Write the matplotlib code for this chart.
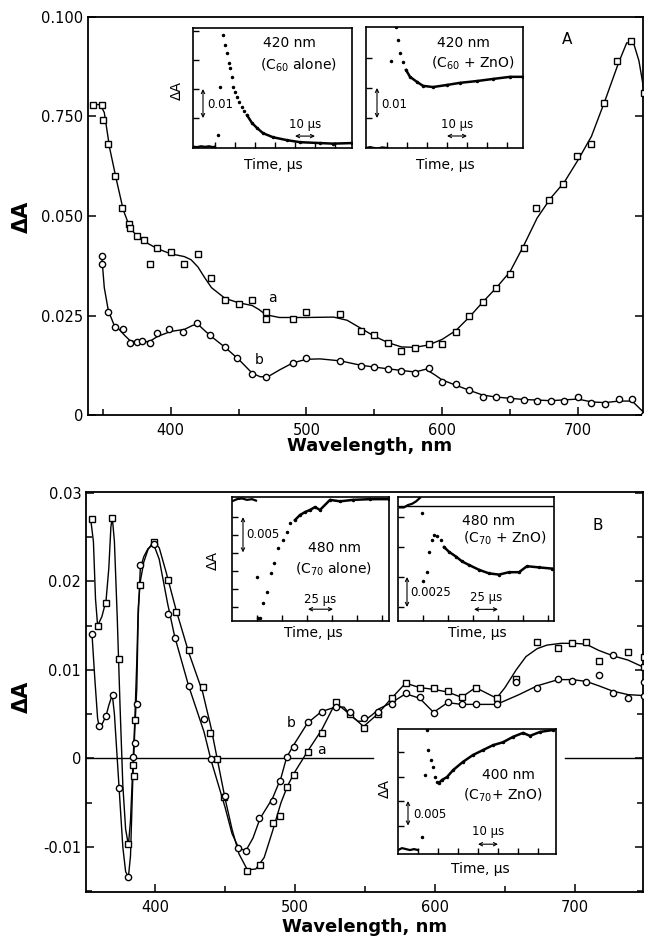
import matplotlib
matplotlib.use("Agg")
import matplotlib.pyplot as plt
from matplotlib.ticker import MultipleLocator

W, H = 646, 936

# ---------------- panel A : C60 (a = squares, b = circles) ----------------
a_wl = [343, 349, 350, 354, 359, 364, 369, 370, 375, 380, 385, 390, 400, 410, 420,
        430, 440, 450, 460, 470, 470, 490, 500, 525, 540, 550, 560, 570, 580, 590,
        600, 610, 620, 630, 640, 650, 660, 669, 679, 689, 699, 710, 719, 729, 739, 749]
a_val = [0.078, 0.078, 0.074, 0.068, 0.060, 0.052, 0.048, 0.047, 0.045, 0.044, 0.038,
         0.042, 0.041, 0.038, 0.0405, 0.0345, 0.029, 0.028, 0.029, 0.026, 0.024, 0.024,
         0.026, 0.0253, 0.021, 0.020, 0.018, 0.016, 0.0168, 0.0178, 0.0178, 0.0208,
         0.0248, 0.0285, 0.032, 0.0355, 0.042, 0.052, 0.054, 0.058, 0.065, 0.068,
         0.0785, 0.089, 0.094, 0.081]
a_curve_wl = [341, 348, 351, 355, 360, 365, 370, 375, 380, 390, 400, 410, 415, 420, 425,
              430, 440, 450, 460, 465, 470, 480, 500, 520, 530, 540, 550, 560, 570, 580,
              590, 600, 610, 620, 630, 640, 650, 660, 670, 680, 690, 700, 710, 720, 730,
              736, 741, 745, 749]
a_curve_val = [0.078, 0.078, 0.076, 0.067, 0.059, 0.0515, 0.047, 0.045, 0.0437, 0.0418,
               0.0405, 0.0398, 0.039, 0.0372, 0.0345, 0.032, 0.0293, 0.0282, 0.0275,
               0.0265, 0.0252, 0.0245, 0.0245, 0.0246, 0.0238, 0.0218, 0.0198, 0.0182,
               0.0171, 0.017, 0.0176, 0.019, 0.0212, 0.0246, 0.0284, 0.032, 0.036,
               0.0425, 0.0495, 0.0545, 0.0585, 0.064, 0.07, 0.079, 0.0885, 0.0935,
               0.0935, 0.089, 0.081]

b_wl = [349, 349, 354, 359, 365, 370, 375, 379, 385, 390, 399, 409, 419, 429, 440, 449,
        460, 470, 490, 500, 525, 540, 550, 560, 570, 580, 590, 600, 610, 620, 630, 640,
        650, 660, 670, 680, 690, 700, 710, 720, 730, 740, 749]
b_val = [0.040, 0.038, 0.026, 0.022, 0.0217, 0.018, 0.0183, 0.0185, 0.018, 0.0205,
         0.0215, 0.0208, 0.023, 0.020, 0.017, 0.0143, 0.0103, 0.0095, 0.013, 0.0143,
         0.0135, 0.0123, 0.012, 0.0115, 0.011, 0.0105, 0.0118, 0.0083, 0.0078, 0.0063,
         0.0045, 0.0045, 0.004, 0.0038, 0.0035, 0.0035, 0.0035, 0.0045, 0.003, 0.0028,
         0.004, 0.004, 0.0]
b_curve_wl = [349, 351, 354, 358, 362, 366, 370, 375, 380, 385, 390, 400, 410, 416, 420,
              425, 430, 440, 450, 460, 466, 472, 480, 490, 500, 510, 525, 540, 560, 580,
              588, 595, 600, 610, 620, 630, 640, 660, 680, 700, 710, 720, 730, 740, 749]
b_curve_val = [0.0405, 0.032, 0.0262, 0.0228, 0.0215, 0.02, 0.0187, 0.0183, 0.0183,
               0.0186, 0.0197, 0.021, 0.0215, 0.0225, 0.0228, 0.0212, 0.0197, 0.017,
               0.014, 0.0105, 0.0096, 0.0097, 0.0113, 0.0131, 0.014, 0.0141, 0.0136,
               0.0125, 0.0116, 0.0108, 0.0115, 0.01, 0.0088, 0.0075, 0.0062, 0.005,
               0.0045, 0.0039, 0.0036, 0.004, 0.0033, 0.0031, 0.0035, 0.0035, 0.0005]

# ---------------- panel B : C70 ----------------
Ba_wl = [355, 359, 365, 369, 374, 381, 384, 385, 386, 389, 399, 409, 415, 424, 434, 439,
         444, 449, 466, 475, 484, 489, 494, 499, 509, 519, 529, 539, 549, 559, 569, 579,
         589, 599, 609, 619, 629, 644, 658, 673, 688, 698, 708, 717, 738, 749, 749]
Ba_val = [0.0271, 0.015, 0.0176, 0.0272, 0.0112, -0.0097, -0.0008, -0.002, 0.0043,
          0.0196, 0.0245, 0.0202, 0.0165, 0.0122, 0.0081, 0.0029, -0.0001, -0.0044,
          -0.0127, -0.0121, -0.0073, -0.0065, -0.0032, -0.0019, 0.0007, 0.0029, 0.0064,
          0.005, 0.0034, 0.005, 0.0068, 0.0085, 0.008, 0.0079, 0.0076, 0.0069, 0.008,
          0.0068, 0.009, 0.0131, 0.0125, 0.013, 0.0131, 0.011, 0.012, 0.0115, 0.0103]
Ba_curve_wl = [354, 356, 357.5, 359, 362, 365, 367, 368.5, 369.5, 371, 373, 375, 377, 379,
               381, 382.5, 384, 385.5, 387, 388, 389.5, 392, 395, 399, 403, 408, 415, 424,
               434, 440, 445, 450, 455, 460, 466, 472, 478, 484, 490, 495, 500, 509, 519,
               529, 539, 549, 559, 569, 579, 589, 599, 609, 619, 629, 644, 650, 658, 665,
               673, 680, 690, 700, 708, 717, 727, 738, 749]
Ba_curve_val = [0.0271, 0.0245, 0.018, 0.015, 0.016, 0.0178, 0.0215, 0.0262, 0.0272,
                0.0245, 0.016, 0.006, -0.003, -0.008, -0.0098, -0.007, -0.0015, 0.004,
                0.011, 0.017, 0.02, 0.0222, 0.0236, 0.0245, 0.0238, 0.021, 0.0168, 0.012,
                0.0075, 0.0035, -0.0005, -0.0045, -0.008, -0.0108, -0.0126, -0.0125,
                -0.0112, -0.0082, -0.005, -0.003, -0.0015, 0.0008, 0.0032, 0.0063, 0.005,
                0.0036, 0.005, 0.0068, 0.0085, 0.008, 0.0078, 0.0075, 0.0069, 0.008,
                0.0068, 0.008, 0.01, 0.0115, 0.0124, 0.0128, 0.013, 0.013, 0.0129, 0.0122,
                0.0116, 0.0111, 0.0103]

Bb_wl = [355, 360, 365, 370, 374, 381, 384, 386, 387, 389, 399, 409, 414, 424, 435, 440,
         450, 459, 465, 474, 484, 489, 494, 499, 509, 519, 529, 539, 549, 559, 569, 579,
         589, 599, 609, 619, 629, 644, 658, 673, 688, 698, 708, 717, 727, 727, 738, 749, 749]
Bb_val = [0.014, 0.0037, 0.0048, 0.0072, -0.0034, -0.0134, 0.0001, 0.0017, 0.0062, 0.0219,
          0.0242, 0.0163, 0.0136, 0.0082, 0.0045, -0.0001, -0.0042, -0.0101, -0.0105,
          -0.0067, -0.0048, -0.0026, 0.0001, 0.0013, 0.0041, 0.0052, 0.0058, 0.0052,
          0.0046, 0.0052, 0.0062, 0.0074, 0.0069, 0.0051, 0.0064, 0.0061, 0.0061, 0.0061,
          0.0086, 0.0079, 0.009, 0.0087, 0.0086, 0.0094, 0.0117, 0.0074, 0.0068, 0.0086,
          0.0071]
Bb_curve_wl = [355, 357, 359, 360, 362, 365, 367, 369.5, 371, 373, 375, 377, 379, 381,
               382.5, 384, 385.5, 387, 388, 389.5, 392, 395, 399, 403, 409, 414, 424, 435,
               440, 450, 455, 460, 465, 470, 475, 484, 490, 494, 499, 509, 519, 529, 535,
               540, 545, 549, 555, 560, 569, 579, 589, 599, 609, 619, 629, 644, 660, 673,
               688, 698, 708, 717, 727, 738, 749]
Bb_curve_val = [0.014, 0.009, 0.0045, 0.0037, 0.0038, 0.0048, 0.006, 0.0072, 0.005, 0.0,
                -0.005, -0.01, -0.0128, -0.0134, -0.011, -0.003, 0.003, 0.008, 0.016,
                0.0215, 0.0228, 0.0237, 0.0242, 0.0225, 0.0175, 0.0138, 0.0082, 0.003,
                -0.0002, -0.0055, -0.0085, -0.0102, -0.0104, -0.009, -0.0068, -0.0045,
                -0.0022, 0.0001, 0.0015, 0.004, 0.0053, 0.0058, 0.0058, 0.0048, 0.0042,
                0.0042, 0.0049, 0.0056, 0.0063, 0.0073, 0.0068, 0.0052, 0.0063, 0.0061,
                0.0061, 0.0061, 0.0072, 0.0082, 0.0089, 0.0089, 0.0087, 0.0082, 0.0076,
                0.0072, 0.0071]

# ---------------- inset traces ----------------
# A1: 420 nm, C60 alone
A1_base_t = [0, 2, 4, 6, 8, 10, 11]
A1_base_v = [0.0002, 0.0, 0.0003, 0.0001, 0.0003, 0.0, 0.0002]
A1_dot_t = [12.5, 13.5, 15, 16, 17, 18, 18.5, 19.5, 20, 21, 22, 23, 24.5, 25.5]
A1_dot_v = [0.0041, 0.0207, 0.0386, 0.035, 0.0324, 0.029, 0.0272, 0.024, 0.0207, 0.019,
            0.0172, 0.0155, 0.0138, 0.0124]
A1_line_t = [27, 29.5, 32, 35, 40, 47, 53.5, 63.5, 70, 79.5]
A1_line_v = [0.011, 0.0083, 0.0066, 0.0048, 0.0034, 0.0024, 0.0017, 0.0014, 0.0012, 0.0014]

# A2: 420 nm, C60 + ZnO
A2_base_t = [0, 2, 4, 6, 8, 10.5]
A2_base_v = [0.0, 0.0003, 0.0, -0.0002, 0.0002, 0.0]
A2_dot_t = [12.5, 15, 16, 17, 18.5]
A2_dot_v = [0.029, 0.0403, 0.036, 0.0317, 0.0287]
A2_line_t = [20, 22, 25.5, 28.5, 33.5, 40.5, 47, 55.5, 63.5, 72, 78.5]
A2_line_v = [0.026, 0.0237, 0.022, 0.0207, 0.0203, 0.021, 0.0217, 0.0223, 0.023, 0.0237,
             0.0237]

# B1: 480 nm, C70 alone
B1_base_t = [0, 5, 10, 15, 20, 24]
B1_base_v = [0.0172, 0.0175, 0.0176, 0.0174, 0.0175, 0.0173]
B1_dot_t = [25, 26, 28, 31, 35, 39, 42, 46, 51, 55, 58]
B1_dot_v = [0.0067, 0.001, 0.001, 0.0031, 0.0046, 0.0072, 0.0086, 0.0107, 0.0118, 0.0129,
            0.0142]
B1_line_t = [63, 68, 73, 78, 83, 88, 98, 108, 121, 138, 157]
B1_line_v = [0.0146, 0.0153, 0.0157, 0.016, 0.0164, 0.016, 0.0174, 0.0172, 0.0174, 0.0175,
             0.0175]

# B2: 480 nm, C70 + ZnO
B2_base_t = [2, 6, 10, 14, 18, 22]
B2_base_v = [0.0108, 0.0108, 0.011, 0.0111, 0.0113, 0.0116]
B2_dot_t = [24, 25, 29, 31, 33.5, 36, 39, 43]
B2_dot_v = [0.0103, 0.0047, 0.0054, 0.0071, 0.0081, 0.0085, 0.0084, 0.0081]
B2_line_t = [46, 51, 58, 64, 71, 81, 91, 101, 111, 121, 129, 141, 154]
B2_line_v = [0.0075, 0.0071, 0.0067, 0.0063, 0.006, 0.0056, 0.0053, 0.0052, 0.0054, 0.0054,
             0.0059, 0.0058, 0.0057]
B2_ref = 0.0109

# B3: 400 nm, C70 + ZnO
B3_base_t = [0, 2, 4, 6, 8, 10]
B3_base_v = [0.0, 0.0004, 0.0002, 0.0, 0.0002, 0.0]
B3_dot_t = [12, 13.5, 14.5, 15, 16.5, 17.5, 18.5, 19.5]
B3_dot_v = [0.0027, 0.0153, 0.0245, 0.0204, 0.0184, 0.0169, 0.0149, 0.0139]
B3_line_t = [20.5, 22, 24.5, 27.5, 32.5, 37.5, 42.5, 47.5, 52.5, 57.5, 62.5, 66, 71, 77.5]
B3_line_v = [0.0137, 0.0143, 0.0149, 0.0163, 0.018, 0.0194, 0.0204, 0.0214, 0.022, 0.0231,
             0.0239, 0.0233, 0.0241, 0.0245]


def rect(l, t, r, b):
    return [l / W, 1 - b / H, (r - l) / W, (b - t) / H]


fig = plt.figure(figsize=(W / 100, H / 100), dpi=100)


def ftext(x, y, s, **kw):
    kw.setdefault("ha", "center")
    kw.setdefault("va", "center")
    kw.setdefault("fontsize", 10)
    fig.text(x / W, 1 - y / H, s, **kw)


def style_main(ax):
    for s in ax.spines.values():
        s.set_linewidth(1.3)
    ax.xaxis.set_minor_locator(MultipleLocator(50))
    ax.tick_params(which="both", direction="in", right=True, width=1.1, labelsize=10.5)
    ax.tick_params(which="major", length=6)
    ax.tick_params(which="minor", length=4)
    ax.tick_params(axis="x", pad=6)
    ax.set_xticks([400, 500, 600, 700])


def inset(l, t, r, b, xlim, ylim, xticks, yticks):
    ax = fig.add_axes(rect(l, t, r, b))
    ax.set_xlim(xlim)
    ax.set_ylim(ylim)
    ax.set_xticks(xticks)
    ax.set_yticks(yticks)
    ax.tick_params(direction="in", length=4, width=1, labelbottom=False, labelleft=False)
    for s in ax.spines.values():
        s.set_linewidth(1.2)
    return ax


def trace(ax, bt, bv, dt, dv, lt, lv):
    ax.plot(bt, bv, color="k", lw=1.6)
    ax.plot(dt, dv, "k.", ms=3)
    ax.plot(lt, lv, color="k", lw=1.8)
    ax.plot(lt, lv, "k.", ms=3)


def vbar(ax, x, y0, y1):
    ax.annotate("", xy=(x, y0), xytext=(x, y1),
                arrowprops=dict(arrowstyle="<->", lw=0.8, mutation_scale=6, shrinkA=0, shrinkB=0))


def hbar(ax, x0, x1, y):
    ax.annotate("", xy=(x0, y), xytext=(x1, y),
                arrowprops=dict(arrowstyle="<->", lw=0.8, mutation_scale=6, shrinkA=0, shrinkB=0))


mk = dict(mfc="white", mec="k", mew=1.0, ms=4.5, ls="none", zorder=3)

# ---------------- panel A ----------------
axA = fig.add_axes(rect(88, 17, 643, 415))
axA.plot(a_curve_wl, a_curve_val, color="k", lw=1.0)
axA.plot(b_curve_wl, b_curve_val, color="k", lw=1.0)
axA.plot(a_wl, a_val, marker="s", **mk)
axA.plot(b_wl, b_val, marker="o", **mk)
axA.set_xlim(339, 748)
axA.set_ylim(0, 0.1)
axA.set_yticks([0, 0.025, 0.05, 0.075, 0.1])
axA.set_yticklabels(["0", "0.025", "0.050", "0.750", "0.100"])
style_main(axA)
axA.text(475, 0.0295, "a", fontsize=10, ha="center", va="center")
axA.text(465, 0.0138, "b", fontsize=10, ha="center", va="center")
ftext(567, 40, "A", fontsize=11)
ftext(22, 217, "ΔA", fontsize=15, fontweight="bold", rotation=90)
ftext(370, 446, "Wavelength, nm", fontsize=13, fontweight="bold")

iA1 = inset(193, 28, 352, 148, (0, 79.5), (-0.0003, 0.041), [11, 21, 31, 41, 51, 61, 71],
            [0.01, 0.02, 0.03, 0.04])
trace(iA1, A1_base_t, A1_base_v, A1_dot_t, A1_dot_v, A1_line_t, A1_line_v)
vbar(iA1, 5, 0.01, 0.02)
iA1.text(7, 0.0145, "0.01", fontsize=8.5, va="center")
hbar(iA1, 51, 61, 0.0038)
iA1.text(56, 0.0078, "10 μs", fontsize=8.5, ha="center", va="center")
ftext(289, 43, "420 nm", fontsize=10)
ftext(298, 65, "(C$_{60}$ alone)", fontsize=10)
ftext(273, 165, "Time, μs", fontsize=10)
ftext(177, 90, "ΔA", fontsize=10, rotation=90)

iA2 = inset(366, 27, 523, 148, (0, 78.5), (0, 0.0403), [10.5, 20.5, 30.5, 40.5, 50.5, 60.5, 70.5],
            [0.01, 0.02, 0.03])
trace(iA2, A2_base_t, A2_base_v, A2_dot_t, A2_dot_v, A2_line_t, A2_line_v)
vbar(iA2, 5.5, 0.01, 0.02)
iA2.text(7.5, 0.0145, "0.01", fontsize=8.5, va="center")
hbar(iA2, 40.5, 50.5, 0.004)
iA2.text(45.5, 0.0078, "10 μs", fontsize=8.5, ha="center", va="center")
ftext(463, 43, "420 nm", fontsize=10)
ftext(473, 63, "(C$_{60}$ + ZnO)", fontsize=10)
ftext(445, 165, "Time, μs", fontsize=10)

# ---------------- panel B ----------------
axB = fig.add_axes(rect(86, 492, 643, 892))
axB.plot(Ba_curve_wl, Ba_curve_val, color="k", lw=1.0)
axB.plot(Bb_curve_wl, Bb_curve_val, color="k", lw=1.0)
axB.plot(Ba_wl, Ba_val, marker="s", **mk)
axB.plot(Bb_wl, Bb_val, marker="o", **mk)
axB.plot([350.7, 555.7], [0, 0], color="k", lw=1.0)
axB.plot([693, 748.6], [0, 0], color="k", lw=1.0)
axB.set_xlim(350.7, 748.6)
axB.set_ylim(-0.0151, 0.0301)
axB.set_yticks([-0.01, 0, 0.01, 0.02, 0.03])
axB.set_yticklabels(["-0.01", "0", "0.01", "0.02", "0.03"])
axB.yaxis.set_minor_locator(MultipleLocator(0.005))
style_main(axB)
axB.text(497, 0.004, "b", fontsize=10, ha="center", va="center")
axB.text(519, 0.001, "a", fontsize=10, ha="center", va="center")
ftext(598, 526, "B", fontsize=11)
ftext(22, 697, "ΔA", fontsize=15, fontweight="bold", rotation=90)
ftext(365, 927, "Wavelength, nm", fontsize=13, fontweight="bold")

iB1 = inset(232, 497, 389, 621, (0, 157), (0.00056, 0.0178), [25, 50, 75, 100, 125, 150],
            [0.0025, 0.005, 0.0075, 0.01, 0.0125, 0.015])
trace(iB1, B1_base_t, B1_base_v, B1_dot_t, B1_dot_v, B1_line_t, B1_line_v)
vbar(iB1, 11, 0.0101, 0.015)
iB1.text(14, 0.0126, "0.005", fontsize=8.5, va="center")
hbar(iB1, 76, 101, 0.0022)
iB1.text(88.5, 0.0036, "25 μs", fontsize=8.5, ha="center", va="center")
ftext(335, 548, "480 nm", fontsize=10)
ftext(333, 569, "(C$_{70}$ alone)", fontsize=10)
ftext(313, 633, "Time, μs", fontsize=10)
ftext(213, 560, "ΔA", fontsize=10, rotation=90)

iB2 = inset(398, 497, 554, 621, (0, 156), (0.00133, 0.01167), [25, 50, 75, 100, 125, 150],
            [0.0025, 0.005, 0.0075, 0.01])
iB2.axhline(B2_ref, color="k", lw=1.0)
trace(iB2, B2_base_t, B2_base_v, B2_dot_t, B2_dot_v, B2_line_t, B2_line_v)
vbar(iB2, 9, 0.0025, 0.005)
iB2.text(12, 0.0037, "0.0025", fontsize=8.5, va="center")
hbar(iB2, 76, 100, 0.0023)
iB2.text(88, 0.0033, "25 μs", fontsize=8.5, ha="center", va="center")
ftext(489, 521, "480 nm", fontsize=10)
ftext(505, 538, "(C$_{70}$ + ZnO)", fontsize=10)
ftext(477, 633, "Time, μs", fontsize=10)

iB3 = inset(398, 729, 556, 854, (0, 79), (-0.0008, 0.0247), [10, 20, 30, 40, 50, 60, 70],
            [0.005, 0.01, 0.015, 0.02])
trace(iB3, B3_base_t, B3_base_v, B3_dot_t, B3_dot_v, B3_line_t, B3_line_v)
vbar(iB3, 5, 0.005, 0.01)
iB3.text(7.5, 0.0072, "0.005", fontsize=8.5, va="center")
hbar(iB3, 40, 50, 0.0012)
iB3.text(45, 0.0037, "10 μs", fontsize=8.5, ha="center", va="center")
ftext(508, 775, "400 nm", fontsize=10)
ftext(503, 795, "(C$_{70}$+ ZnO)", fontsize=10)
ftext(480, 869, "Time, μs", fontsize=10)
ftext(385, 788, "ΔA", fontsize=10, rotation=90)

fig.savefig("out.png", dpi=100)
